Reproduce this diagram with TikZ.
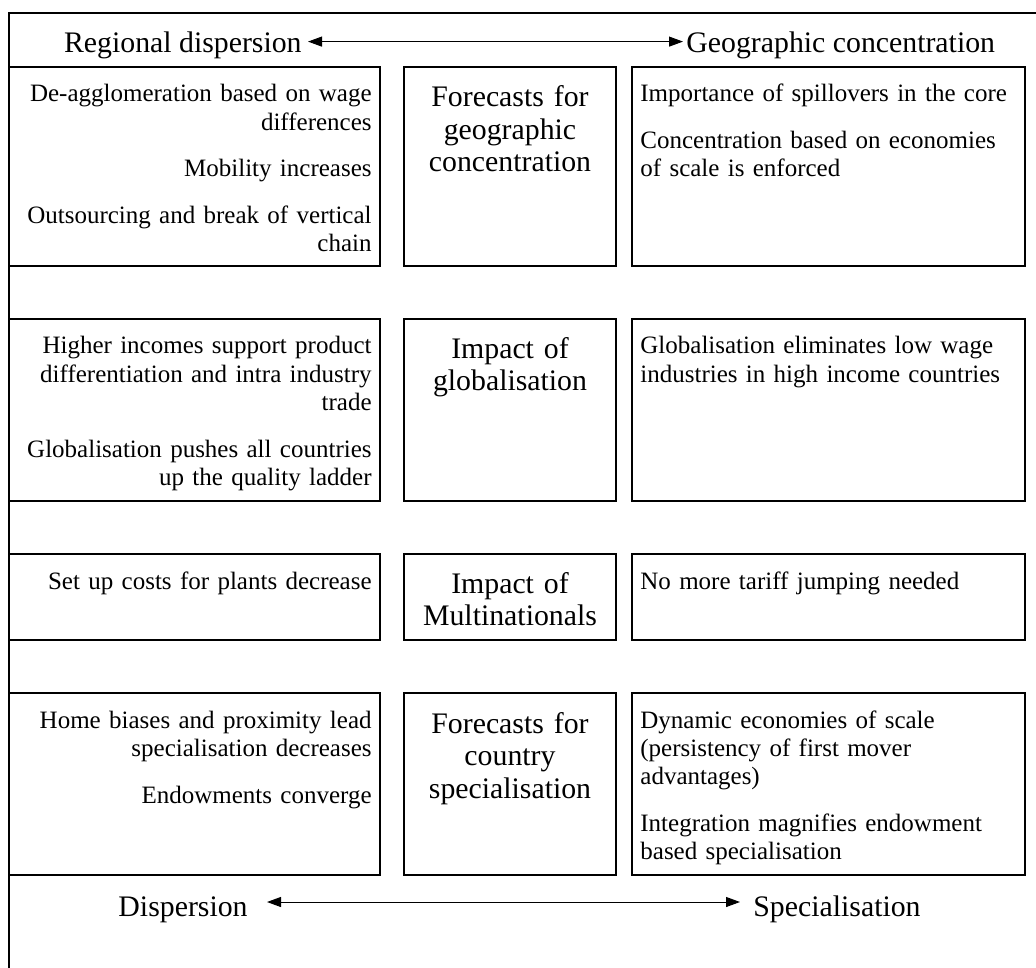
\documentclass[tikz,border=0pt]{standalone}
\usepackage{fontspec}
\setmainfont{Liberation Serif}
\usetikzlibrary{arrows.meta}
\begin{document}
\begin{tikzpicture}[x=0.5pt,y=-0.5pt,
  frame/.style={line width=1.2pt},
  box/.style={draw, line width=0.7pt, anchor=north west, inner sep=0pt, outer sep=0pt},
  body/.style={inner sep=0pt, text width=210pt, font=\fontsize{12.5}{14.15}\selectfont},
  lt/.style={body, anchor=base east, align=right},
  rt/.style={body, anchor=base west, align=left},
  mt/.style={inner sep=0pt, anchor=base, align=center, text width=104pt, font=\fontsize{14.9}{16.25}\selectfont},
  lab/.style={inner sep=0pt, font=\fontsize{14.9}{16.25}\selectfont},
  arr/.style={line width=0.5pt, arrows={Triangle[length=7pt,width=5pt]-Triangle[length=7pt,width=5pt]}}
]
\useasboundingbox (0,0) rectangle (1036,967);
\clip (0,0) rectangle (1036,967);
% outer frame (cut by the picture edge at right and bottom)
\draw[frame] (9,1100) -- (9,13) -- (1100,13);

% top axis
\node[lab, anchor=base east] (rd) at (302,53) {Regional dispersion};
\node[lab, anchor=base west] (gc) at (686,53) {Geographic concentration};
\draw[arr] ([xshift=3pt,yshift=5.7pt]rd.base east) -- ([xshift=-1.5pt,yshift=5.7pt]gc.base west);

% row 1
\node[box, minimum width=185.5pt, minimum height=99.5pt] (L1) at (9,67) {};
\node[box, minimum width=106pt, minimum height=99.5pt] (M1) at (404,67) {};
\node[box, minimum width=196.5pt, minimum height=99.5pt] (R1) at (632,67) {};
\node[lt] (L1t) at ([xshift=-4pt,yshift=-17.5pt]L1.north east) {De-agglomeration based on wage\\differences\\[9.2pt]Mobility increases\\[9.2pt]Outsourcing and break of vertical\\chain};
\node[mt] (M1t) at ([yshift=-20pt]M1.north) {Forecasts for\\geographic\\concentration};
\node[rt] (R1t) at ([xshift=4pt,yshift=-17.5pt]R1.north west) {Importance of spillovers in the core\\[9.2pt]Concentration based on economies\\of scale is enforced};

% row 2
\node[box, minimum width=185.5pt, minimum height=91pt] (L2) at (9,319) {};
\node[box, minimum width=106pt, minimum height=91pt] (M2) at (404,319) {};
\node[box, minimum width=196.5pt, minimum height=91pt] (R2) at (632,319) {};
\node[lt] (L2t) at ([xshift=-4pt,yshift=-17.5pt]L2.north east) {Higher incomes support product\\differentiation and intra industry\\trade\\[9.2pt]Globalisation pushes all countries\\up the quality ladder};
\node[mt] (M2t) at ([yshift=-19.5pt]M2.north) {Impact of\\globalisation};
\node[rt] (R2t) at ([xshift=4pt,yshift=-17.5pt]R2.north west) {Globalisation eliminates low wage\\industries in high income countries};

% row 3
\node[box, minimum width=185.5pt, minimum height=43pt] (L3) at (9,554) {};
\node[box, minimum width=106pt, minimum height=43pt] (M3) at (404,554) {};
\node[box, minimum width=196.5pt, minimum height=43pt] (R3) at (632,554) {};
\node[lt] (L3t) at ([xshift=-4pt,yshift=-17.5pt]L3.north east) {Set up costs for plants decrease};
\node[mt] (M3t) at ([yshift=-19.5pt]M3.north) {Impact of\\Multinationals};
\node[rt] (R3t) at ([xshift=4pt,yshift=-17.5pt]R3.north west) {No more tariff jumping needed};

% row 4
\node[box, minimum width=185.5pt, minimum height=91pt] (L4) at (9,693) {};
\node[box, minimum width=106pt, minimum height=91pt] (M4) at (404,693) {};
\node[box, minimum width=196.5pt, minimum height=91pt] (R4) at (632,693) {};
\node[lt] (L4t) at ([xshift=-4pt,yshift=-17.5pt]L4.north east) {Home biases and proximity lead\\specialisation decreases\\[9.2pt]Endowments converge};
\node[mt] (M4t) at ([yshift=-20pt]M4.north) {Forecasts for\\country\\specialisation};
\node[rt] (R4t) at ([xshift=4pt,yshift=-17.5pt]R4.north west) {Dynamic economies of scale\\(persistency of first mover\\advantages)\\[9.2pt]Integration magnifies endowment\\based specialisation};

% bottom axis
\node[lab, anchor=base east] (di) at (248,916) {Dispersion};
\node[lab, anchor=base west] (sp) at (753,916) {Specialisation};
\draw[arr] ([xshift=9.5pt,yshift=7pt]di.base east) -- ([xshift=-6.5pt,yshift=7pt]sp.base west);
\end{tikzpicture}
\end{document}
